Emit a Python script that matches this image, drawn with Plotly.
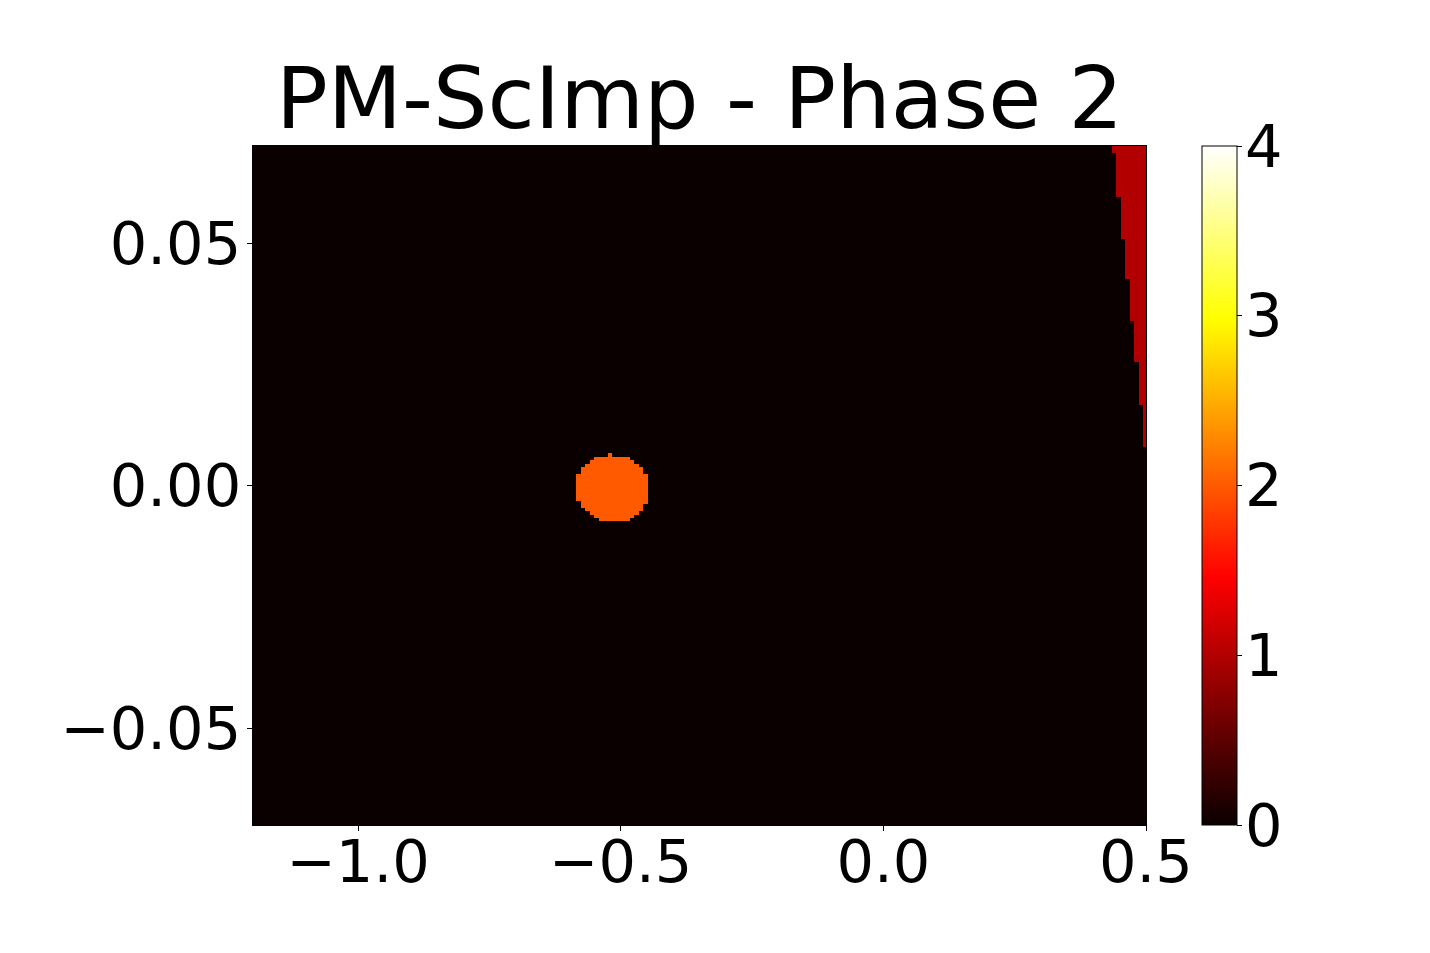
import plotly.graph_objects as go

# ---- data ----
x_range = [-1.2, 0.5]
y_range = [-0.07, 0.07]

# circular region (value 2): row edges (top -> bottom) and x extent of each row
circle_value = 2
circle_y_edges = [0.0066, 0.0059, 0.0052, 0.0045, 0.0038, 0.0031, 0.0024, 0.0017,
                  0.0010, 0.0003, -0.0004, -0.0011, -0.0018, -0.0025, -0.0032,
                  -0.0039, -0.0046, -0.0053, -0.0060, -0.0067, -0.0074]
circle_x_left = [-0.524, -0.551, -0.558, -0.568, -0.576, -0.576, -0.585, -0.585,
                 -0.585, -0.585, -0.585, -0.585, -0.585, -0.585, -0.576, -0.576,
                 -0.568, -0.558, -0.551, -0.541]
circle_x_right = [-0.516, -0.482, -0.475, -0.465, -0.457, -0.457, -0.448, -0.448,
                  -0.448, -0.448, -0.448, -0.448, -0.448, -0.448, -0.448, -0.457,
                  -0.457, -0.465, -0.475, -0.482]

# right-edge wedge (value 1): band edges (top -> bottom) and x where the band starts
wedge_value = 1
wedge_y_edges = [0.0700, 0.0686, 0.0594, 0.0509, 0.0425, 0.0340, 0.0255, 0.0165, 0.0080]
wedge_x_start = [0.4345, 0.4421, 0.4516, 0.4592, 0.4688, 0.4764, 0.4859, 0.4935]

x_ticks = [-1.0, -0.5, 0.0, 0.5]
y_ticks = [-0.05, 0.0, 0.05]
cbar_ticks = [0, 1, 2, 3, 4]
cbar_labels = ["0", "1", "2", "3", "4"]
z_limits = [0, 4]
title_text = "PM-ScImp - Phase 2"

# ---- build the cell grid from the region boundaries ----
x_edges = sorted(set(x_range + circle_x_left + circle_x_right + wedge_x_start))
y_edges = sorted(set(y_range + circle_y_edges + wedge_y_edges))

z = []
for j in range(len(y_edges) - 1):
    cy = 0.5 * (y_edges[j] + y_edges[j + 1])
    row = []
    for i in range(len(x_edges) - 1):
        cx = 0.5 * (x_edges[i] + x_edges[i + 1])
        v = 0
        for r in range(len(circle_x_left)):
            if circle_y_edges[r + 1] < cy < circle_y_edges[r] and circle_x_left[r] < cx < circle_x_right[r]:
                v = circle_value
        for b in range(len(wedge_x_start)):
            if wedge_y_edges[b + 1] < cy < wedge_y_edges[b] and cx > wedge_x_start[b]:
                v = wedge_value
        row.append(v)
    z.append(row)

# matplotlib "hot" colormap
hot = [[0.0, "rgb(10,0,0)"], [0.365079, "rgb(255,0,0)"],
       [0.746032, "rgb(255,255,0)"], [1.0, "rgb(255,255,255)"]]

FONT = "DejaVu Sans"
W, H = 1430, 953
OFF = 8  # default page body margin
L, R, T, B = 253 - OFF, 1146 - OFF, 146 - OFF, 825 - OFF
TICK_SIZE = 59

fig = go.Figure(go.Heatmap(
    x=x_edges, y=y_edges, z=z, zmin=z_limits[0], zmax=z_limits[1],
    colorscale=hot, zsmooth=False, hoverinfo="skip",
    colorbar=dict(
        x=(1202 - OFF - L) / (R - L), xanchor="left", xpad=0, ypad=0,
        y=0.5, yanchor="middle", len=1, lenmode="fraction",
        thickness=35, thicknessmode="pixels",
        outlinewidth=1, outlinecolor="black",
        tickvals=cbar_ticks, ticks="outside", ticklen=5, tickcolor="black",
        showticklabels=False,
    ),
))

# colour-bar tick labels placed next to the bar
for v, lab in zip(cbar_ticks, cbar_labels):
    fig.add_annotation(
        text=lab, xref="paper", yref="paper",
        x=(1244 - OFF - L) / (R - L), xanchor="left",
        y=(v - z_limits[0]) / (z_limits[1] - z_limits[0]), yanchor="middle",
        showarrow=False, borderpad=0,
        font=dict(family=FONT, size=TICK_SIZE, color="black"),
    )

fig.update_layout(
    width=W, height=H,
    margin=dict(l=L, r=W - R, t=T, b=H - B, pad=0),
    paper_bgcolor="white", plot_bgcolor="white",
    title=dict(text=title_text, x=0.5 * (L + R) / W, xanchor="center",
               y=1 - 120 / H, yanchor="bottom", yref="container",
               font=dict(family=FONT, size=86, color="black")),
    font=dict(family=FONT, color="black"),
)
fig.update_xaxes(range=x_range, tickvals=x_ticks, tickformat=".1f",
                 ticks="outside", ticklen=5, tickcolor="black",
                 ticklabelstandoff=-20,
                 showgrid=False, zeroline=False, showline=True, linecolor="black",
                 linewidth=1, mirror=True,
                 tickfont=dict(family=FONT, size=TICK_SIZE, color="black"))
fig.update_yaxes(range=y_range, tickvals=y_ticks, tickformat=".2f",
                 ticks="outside", ticklen=5, tickcolor="black",
                 ticklabelstandoff=-6,
                 showgrid=False, zeroline=False, showline=True, linecolor="black",
                 linewidth=1, mirror=True,
                 tickfont=dict(family=FONT, size=TICK_SIZE, color="black"))

fig.write_html("out.html")
